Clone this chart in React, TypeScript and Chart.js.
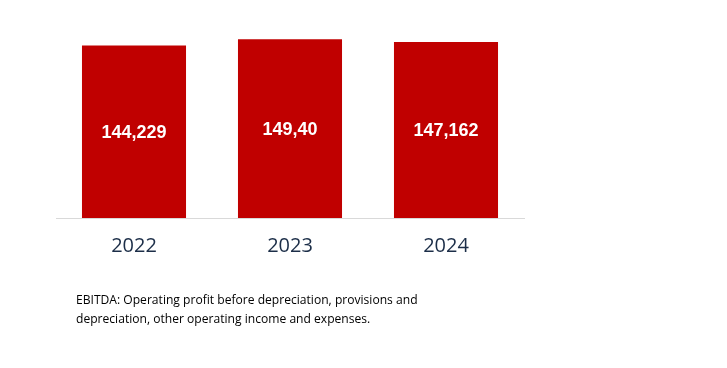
import React, { useEffect, useRef } from "react";
import { Chart, registerables } from "chart.js";

Chart.register(...registerables);

const categories = ["2022", "2023", "2024"];
const ebitdaValues = [144.229, 149.4, 147.162];
const valueLabels = ["144,229", "149,40", "147,162"];
const footnoteLines = [
  "EBITDA: Operating profit before depreciation, provisions and",
  "depreciation, other operating income and expenses.",
];

const barLabelPlugin = {
  id: "barLabels",
  afterDatasetsDraw(chart: any) {
    const ctx = chart.ctx;
    const meta = chart.getDatasetMeta(0);
    ctx.save();
    ctx.fillStyle = "#ffffff";
    ctx.font = "bold 18px 'Liberation Sans', Arial, sans-serif";
    ctx.textAlign = "center";
    ctx.textBaseline = "middle";
    meta.data.forEach((bar: any, i: number) => {
      const y = (bar.y + bar.base) / 2 + 1.5;
      ctx.fillText(valueLabels[i], bar.x, y);
    });
    ctx.restore();
  },
};

export default function App() {
  const ref = useRef<HTMLCanvasElement>(null);
  useEffect(() => {
    const chart = new Chart(ref.current!, {
      type: "bar",
      data: {
        labels: categories,
        datasets: [
          {
            data: ebitdaValues,
            backgroundColor: "#c00000",
            barPercentage: 0.667,
            categoryPercentage: 1,
          },
        ],
      },
      options: {
        responsive: false,
        animation: false,
        layout: { padding: { left: 56, right: 203, top: 38.5, bottom: 0 } },
        plugins: { legend: { display: false }, tooltip: { enabled: false } },
        scales: {
          x: {
            grid: { display: true, drawOnChartArea: false, drawTicks: false, color: "rgba(0,0,0,0)" },
            border: { display: true, color: "#d9d9d9", width: 1 },
            ticks: {
              color: "#1c2e48",
              font: { family: "'Open Sans', sans-serif", size: 20 },
              padding: 16,
            },
            afterFit: (scale: any) => {
              scale.height = 150;
            },
          },
          y: {
            display: false,
            min: 0,
            max: 150,
          },
        },
      },
      plugins: [barLabelPlugin],
    });
    return () => chart.destroy();
  }, []);
  return (
    <div style={{ position: "absolute", left: 0, top: 0, width: 727, height: 368, background: "#fff" }}>
      <canvas ref={ref} width={727} height={368} style={{ display: "block" }} />
      <div
        style={{
          position: "absolute",
          left: 76,
          top: 290,
          fontFamily: "'Open Sans', sans-serif",
          fontSize: 12.1,
          lineHeight: "19px",
          color: "#000",
          whiteSpace: "nowrap",
        }}
      >
        {footnoteLines.map((l, i) => (
          <div key={i}>{l}</div>
        ))}
      </div>
    </div>
  );
}
